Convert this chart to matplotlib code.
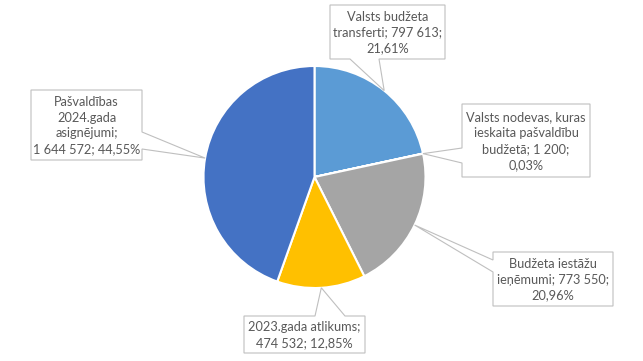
import matplotlib
matplotlib.use("Agg")
import matplotlib.pyplot as plt
import numpy as np
from matplotlib.patches import Polygon

categories = [
    "Valsts budžeta\ntransferti; 797 613;\n21,61%",
    "Valsts nodevas, kuras\nieskaita pašvaldību\nbudžetā; 1 200;\n0,03%",
    "Budžeta iestāžu\nieņēmumi; 773 550;\n20,96%",
    "2023.gada atlikums;\n474 532; 12,85%",
    "Pašvaldības\n2024.gada\nasignējumi;\n1 644 572; 44,55%",
]
values = [797613, 1200, 773550, 474532, 1644572]
colors = ["#5B9BD5", "#ED7D31", "#A5A5A5", "#FFC000", "#4472C4"]

W, H = 643, 361
cx, cy, R = 314.5, 177, 111

fig = plt.figure(figsize=(W / 100, H / 100), dpi=100)
ax = fig.add_axes([0, 0, 1, 1])
ax.pie(values, colors=colors, startangle=-90, counterclock=True,
       center=(cx, cy), radius=R,
       wedgeprops=dict(edgecolor="white", linewidth=1.5))
ax.set_xlim(0, W)
ax.set_ylim(H, 0)
ax.set_aspect("auto")
ax.axis("off")

# label boxes: (left, top, right, bottom), side of leader, two base coords along that side
boxes = [
    ((330, 5, 445, 59), "bottom", (350, 379)),
    ((462, 104, 590, 177), "left", (148, 163)),
    ((493, 252, 613, 306), "left", (260, 272)),
    ((244, 316, 365, 353), "top", (315, 345)),
    ((31, 90, 142, 160), "right", (132, 149)),
]

total = sum(values)
cum = np.cumsum([0] + values)
for i, (lab, (box, side, base)) in enumerate(zip(categories, boxes)):
    mid = -90 + (cum[i] + values[i] / 2) / total * 360
    tx = cx + R * np.cos(np.radians(mid))
    ty = cy + R * np.sin(np.radians(mid))
    l, t, r, b = box
    if side == "bottom":
        pts = [(l, t), (r, t), (r, b), (base[1], b), (tx, ty), (base[0], b), (l, b)]
    elif side == "top":
        pts = [(l, t), (base[0], t), (tx, ty), (base[1], t), (r, t), (r, b), (l, b)]
    elif side == "left":
        pts = [(l, t), (r, t), (r, b), (l, b), (l, base[1]), (tx, ty), (l, base[0])]
    else:
        pts = [(l, t), (r, t), (r, base[0]), (tx, ty), (r, base[1]), (r, b), (l, b)]
    ax.add_patch(Polygon(pts, closed=True, facecolor="white", edgecolor="#BFBFBF",
                         linewidth=0.8, zorder=5))
    ax.text((l + r) / 2, (t + b) / 2 + 0.5, lab, ha="center", va="center",
            fontsize=9.2, family=["Lato", "DejaVu Sans"], color="#595959",
            linespacing=1.38, zorder=6)

fig.savefig("out.png", dpi=100)
